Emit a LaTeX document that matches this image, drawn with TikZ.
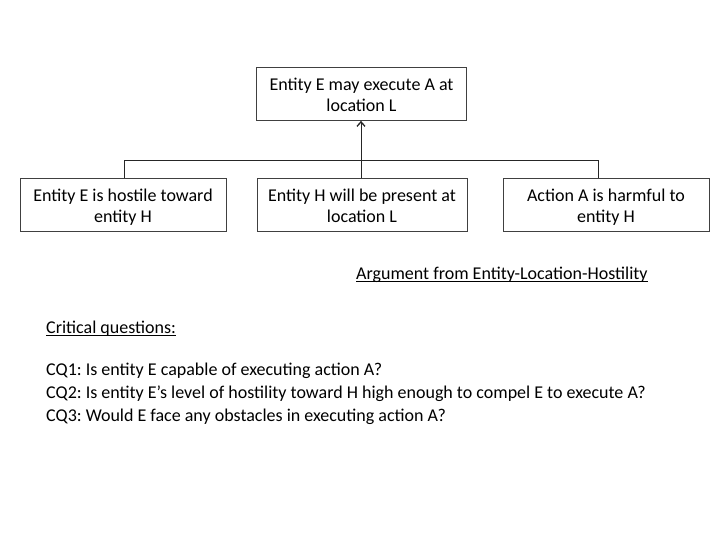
\documentclass[tikz,border=0pt]{standalone}
\usepackage{fontspec}
\setmainfont{Carlito}
\usetikzlibrary{arrows.meta}
\newsavebox\myulbox
\newcommand\myul[1]{\sbox\myulbox{#1}\rlap{\rule[-2.6pt]{\wd\myulbox}{0.8pt}}\usebox\myulbox}
\newcommand\topstrut{\rule{0pt}{20.7pt}}
\begin{document}
\frenchspacing
\begin{tikzpicture}[x=1pt,y=-1pt,
  box/.style={draw=black!75, line width=0.8pt, minimum height=53pt, align=center, inner sep=0pt,
    font=\fontsize{18}{21}\selectfont},
  plain/.style={font=\fontsize{18}{23}\selectfont, inner sep=0pt, anchor=base west},
  conn/.style={draw=black!85, line width=0.8pt}]
\useasboundingbox (0,0) rectangle (720,540);
\node[box, minimum width=210pt] (top) at (361.5,94) {\topstrut Entity E may execute A at\\location L\strut};
\node[box, minimum width=206pt] (b1) at (123,205) {\topstrut Entity E is hostile toward\\entity H\strut};
\node[box, minimum width=210pt] (b2) at (362,205) {\topstrut Entity H will be present at\\location L\strut};
\node[box, minimum width=206pt] (b3) at (606,205) {\topstrut Action A is harmful to\\entity H\strut};
\coordinate (j) at (361,160);
\coordinate (jl) at (124,160);
\coordinate (jr) at (598,160);
\draw[conn] (b1.north -| jl) -- (jl) -- (jr) -- (b3.north -| jr);
\draw[conn] (b2.north -| j) -- (j);
\draw[conn, -{Straight Barb[length=4.5pt,width=8pt,line width=1.3pt]}] (j) -- (top.south -| j);
\node[plain] (title) at (356,279) {\myul{Argument from Entity-Location-Hostility}};
\node[plain] (cq) at (46,333) {\myul{Critical questions:}};
\node[plain] (q1) at (46,375) {CQ1: Is entity E capable of executing action A?};
\node[plain] (q2) at (46,398) {CQ2: Is entity E’s level of hostility toward H high enough to compel E to execute A?};
\node[plain] (q3) at (46,421) {CQ3: Would E face any obstacles in executing action A?};
\end{tikzpicture}
\end{document}
